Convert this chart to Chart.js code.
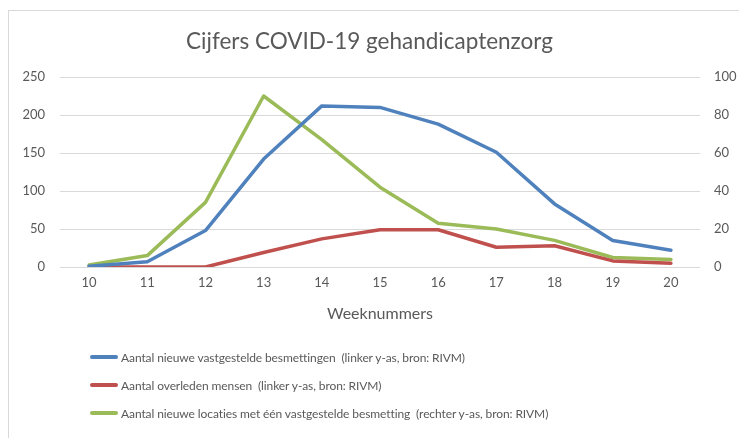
<!DOCTYPE html>
<html>
<head>
<meta charset="utf-8">
<script src="https://cdn.jsdelivr.net/npm/chart.js@4.4.1/dist/chart.umd.min.js"></script>
<style>
  html, body { margin: 0; padding: 0; background: #fff; overflow: hidden; }
  #wrap { position: relative; width: 739px; height: 438px; }
  #frame { position: absolute; left: 8px; top: 10px; width: 760px; height: 500px; border: 1px solid #d9d9d9; }
  #chart { position: absolute; left: 0; top: 0; }
  #legend { position: absolute; left: 90px; top: 343px; font-family: Lato, sans-serif; font-size: 12px; letter-spacing: -0.1px; color: #595959; }
  #legend .row { height: 28px; display: flex; align-items: center; white-space: pre; }
  #legend .mark { display: inline-block; width: 28px; height: 4px; border-radius: 2px; margin-right: 3px; }
</style>
</head>
<body>
<div id="wrap">
  <div id="frame"></div>
  <canvas id="chart" width="739" height="438"></canvas>
  <div id="legend"></div>
</div>
<script>
const weeks = ['10', '11', '12', '13', '14', '15', '16', '17', '18', '19', '20'];
const besmettingen = [1, 7, 48, 142, 212, 210, 188, 151, 83, 35, 22];
const overleden = [0, 0, 0, 19, 37, 49, 49, 26, 28, 8, 5];
const locaties = [1, 6, 34, 90, 67, 42, 23, 20, 14, 5, 4];
const leftTicks = [0, 50, 100, 150, 200, 250];
const rightTicks = [0, 20, 40, 60, 80, 100];

const grey = '#595959';
const tickFont = { family: 'Lato', size: 13 };

const chart = new Chart(document.getElementById('chart'), {
  type: 'line',
  data: {
    labels: weeks,
    datasets: [
      { label: 'Aantal nieuwe vastgestelde besmettingen  (linker y-as, bron: RIVM)', data: besmettingen, borderColor: '#4F81BD', yAxisID: 'y' },
      { label: 'Aantal overleden mensen  (linker y-as, bron: RIVM)', data: overleden, borderColor: '#C0504D', yAxisID: 'y' },
      { label: 'Aantal nieuwe locaties met één vastgestelde besmetting  (rechter y-as, bron: RIVM)', data: locaties, borderColor: '#9BBB59', yAxisID: 'y1' }
    ]
  },
  options: {
    responsive: false,
    animation: false,
    layout: { padding: { left: 0, right: 0, top: 0, bottom: 111 } },
    elements: {
      line: { borderWidth: 3.5, tension: 0, borderCapStyle: 'round', borderJoinStyle: 'round' },
      point: { radius: 0 }
    },
    plugins: {
      legend: { display: false },
      tooltip: { enabled: false },
      title: {
        display: true,
        text: 'Cijfers COVID-19 gehandicaptenzorg',
        color: grey,
        font: { family: 'Lato', size: 22.5, weight: 'normal' },
        padding: { top: 28, bottom: 22 }
      }
    },
    scales: {
      x: {
        offset: true,
        grid: { display: false, drawTicks: false },
        border: { display: false },
        ticks: { color: grey, font: tickFont, padding: 8 },
        title: { display: true, text: 'Weeknummers', color: grey, font: { family: 'Lato', size: 16 }, padding: { top: 0, bottom: 4 } },
        afterFit: s => { s.height = 60; }
      },
      y: {
        position: 'left',
        min: 0, max: 250,
        afterBuildTicks: s => { s.ticks = leftTicks.map(v => ({ value: v })); },
        grid: { color: '#d9d9d9', lineWidth: 1, drawTicks: false },
        border: { display: false },
        ticks: { color: grey, font: tickFont, padding: 15 },
        afterFit: s => { s.width = 60; }
      },
      y1: {
        position: 'right',
        min: 0, max: 100,
        afterBuildTicks: s => { s.ticks = rightTicks.map(v => ({ value: v })); },
        grid: { display: false, drawTicks: false },
        border: { display: false },
        ticks: { color: grey, font: tickFont, padding: 14 },
        afterFit: s => { s.width = 39; }
      }
    }
  }
});

// legend below the chart, one row per series, left aligned
const legend = document.getElementById('legend');
chart.data.datasets.forEach(ds => {
  const row = document.createElement('div');
  row.className = 'row';
  const mark = document.createElement('span');
  mark.className = 'mark';
  mark.style.background = ds.borderColor;
  row.appendChild(mark);
  row.appendChild(document.createTextNode(ds.label));
  legend.appendChild(row);
});
</script>
</body>
</html>
